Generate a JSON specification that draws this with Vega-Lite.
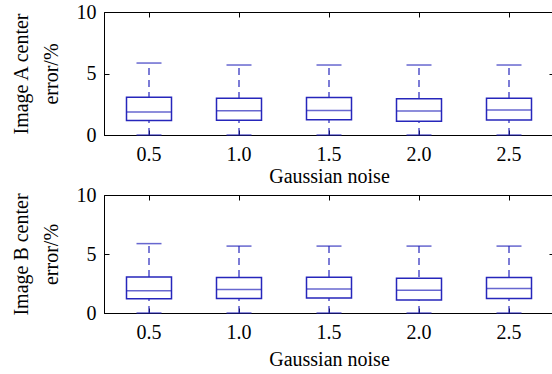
{
  "$schema": "https://vega.github.io/schema/vega-lite/v6.json",
  "padding": {"left": 10, "top": 1, "right": 3, "bottom": 2},
  "background": "white",
  "datasets": {
    "A": [
      {"noise": "0.5", "lo": 0, "q1": 1.17, "med": 1.86, "q3": 3.07, "hi": 5.85},
      {"noise": "1.0", "lo": 0, "q1": 1.19, "med": 1.98, "q3": 2.98, "hi": 5.69},
      {"noise": "1.5", "lo": 0, "q1": 1.25, "med": 2.0, "q3": 3.04, "hi": 5.69},
      {"noise": "2.0", "lo": 0, "q1": 1.11, "med": 1.95, "q3": 2.95, "hi": 5.69},
      {"noise": "2.5", "lo": 0, "q1": 1.21, "med": 2.03, "q3": 2.98, "hi": 5.69}
    ],
    "B": [
      {"noise": "0.5", "lo": 0, "q1": 1.2, "med": 1.88, "q3": 3.06, "hi": 5.88},
      {"noise": "1.0", "lo": 0, "q1": 1.22, "med": 1.99, "q3": 3.0, "hi": 5.67},
      {"noise": "1.5", "lo": 0, "q1": 1.27, "med": 2.04, "q3": 3.03, "hi": 5.67},
      {"noise": "2.0", "lo": 0, "q1": 1.1, "med": 1.93, "q3": 2.95, "hi": 5.67},
      {"noise": "2.5", "lo": 0, "q1": 1.22, "med": 2.07, "q3": 3.0, "hi": 5.67}
    ]
  },
  "config": {
    "font": "'Liberation Serif', 'Times New Roman', serif",
    "view": {"stroke": "black", "strokeWidth": 1},
    "axis": {
      "grid": false,
      "domainColor": "black",
      "tickColor": "black",
      "labelColor": "black",
      "titleColor": "black",
      "labelFont": "'Liberation Serif', 'Times New Roman', serif",
      "titleFont": "'Liberation Serif', 'Times New Roman', serif",
      "labelFontSize": 20,
      "titleFontSize": 20,
      "titleFontWeight": "normal",
      "tickSize": -5
    }
  },
  "spacing": -3,
  "vconcat": [
    {
      "width": 450,
      "height": 123,
      "data": {"name": "A"},
      "resolve": {"axis": {"x": "independent", "y": "independent"}},
      "layer": [
        {
          "mark": {"type": "rule", "color": "#2626bb", "strokeDash": [7, 5], "strokeWidth": 1.2},
          "encoding": {
            "x": {"field": "noise", "type": "nominal", "sort": null,
                  "scale": {"type": "band", "paddingInner": 0, "paddingOuter": 0},
                  "axis": {"title": "Gaussian noise", "labelAngle": 0, "labelPadding": 14, "titlePadding": 2, "labelFont": "'Liberation Serif', serif"}},
            "y": {"field": "lo", "type": "quantitative",
                  "scale": {"domain": [0, 10], "nice": false},
                  "axis": {"title": ["Image A center", "error/%"], "values": [0, 5, 10], "labelPadding": 13, "titlePadding": 15, "titleLineHeight": 30, "labelFont": "'Liberation Serif', serif"}},
            "y2": {"field": "hi"}
          }
        },
        {
          "mark": {"type": "bar", "fill": "white", "stroke": "#2626bb", "strokeWidth": 1.5, "width": {"band": 0.5}},
          "encoding": {
            "x": {"field": "noise", "type": "nominal", "sort": null,
                  "axis": {"orient": "top", "labels": false, "title": null, "domain": false}},
            "y": {"field": "q1", "type": "quantitative",
                  "axis": {"orient": "right", "labels": false, "title": null, "domain": false, "values": [0, 5, 10]}},
            "y2": {"field": "q3"}
          }
        },
        {
          "mark": {"type": "tick", "color": "#2626bb", "size": 45, "thickness": 1.5},
          "encoding": {
            "x": {"field": "noise", "type": "nominal", "sort": null, "axis": null},
            "y": {"field": "med", "type": "quantitative", "axis": null}
          }
        },
        {
          "mark": {"type": "tick", "color": "#2626bb", "size": 25, "thickness": 1.5},
          "encoding": {
            "x": {"field": "noise", "type": "nominal", "sort": null, "axis": null},
            "y": {"field": "hi", "type": "quantitative", "axis": null}
          }
        },
        {
          "mark": {"type": "tick", "color": "#2626bb", "size": 25, "thickness": 1.5},
          "encoding": {
            "x": {"field": "noise", "type": "nominal", "sort": null, "axis": null},
            "y": {"field": "lo", "type": "quantitative", "axis": null}
          }
        }
      ]
    },
    {
      "width": 450,
      "height": 118,
      "data": {"name": "B"},
      "resolve": {"axis": {"x": "independent", "y": "independent"}},
      "layer": [
        {
          "mark": {"type": "rule", "color": "#2626bb", "strokeDash": [7, 5], "strokeWidth": 1.2},
          "encoding": {
            "x": {"field": "noise", "type": "nominal", "sort": null,
                  "scale": {"type": "band", "paddingInner": 0, "paddingOuter": 0},
                  "axis": {"title": "Gaussian noise", "labelAngle": 0, "labelPadding": 14, "titlePadding": 7, "labelFont": "'Liberation Serif', serif"}},
            "y": {"field": "lo", "type": "quantitative",
                  "scale": {"domain": [0, 10], "nice": false},
                  "axis": {"title": ["Image B center", "error/%"], "values": [0, 5, 10], "labelPadding": 13, "titlePadding": 15, "titleLineHeight": 30, "labelFont": "'Liberation Serif', serif"}},
            "y2": {"field": "hi"}
          }
        },
        {
          "mark": {"type": "bar", "fill": "white", "stroke": "#2626bb", "strokeWidth": 1.5, "width": {"band": 0.5}},
          "encoding": {
            "x": {"field": "noise", "type": "nominal", "sort": null,
                  "axis": {"orient": "top", "labels": false, "title": null, "domain": false}},
            "y": {"field": "q1", "type": "quantitative",
                  "axis": {"orient": "right", "labels": false, "title": null, "domain": false, "values": [0, 5, 10]}},
            "y2": {"field": "q3"}
          }
        },
        {
          "mark": {"type": "tick", "color": "#2626bb", "size": 45, "thickness": 1.5},
          "encoding": {
            "x": {"field": "noise", "type": "nominal", "sort": null, "axis": null},
            "y": {"field": "med", "type": "quantitative", "axis": null}
          }
        },
        {
          "mark": {"type": "tick", "color": "#2626bb", "size": 25, "thickness": 1.5},
          "encoding": {
            "x": {"field": "noise", "type": "nominal", "sort": null, "axis": null},
            "y": {"field": "hi", "type": "quantitative", "axis": null}
          }
        },
        {
          "mark": {"type": "tick", "color": "#2626bb", "size": 25, "thickness": 1.5},
          "encoding": {
            "x": {"field": "noise", "type": "nominal", "sort": null, "axis": null},
            "y": {"field": "lo", "type": "quantitative", "axis": null}
          }
        }
      ]
    }
  ]
}
